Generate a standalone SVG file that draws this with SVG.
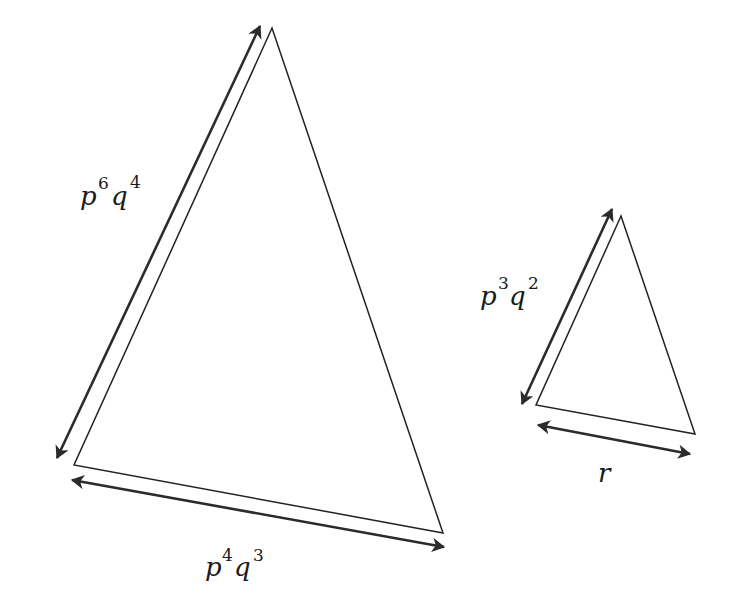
<svg xmlns="http://www.w3.org/2000/svg" width="746" height="608" viewBox="0 0 746 608">
<defs>
<marker id="ah" viewBox="0 0 12 12" refX="10" refY="6" markerWidth="5.5" markerHeight="5.5" orient="auto-start-reverse" markerUnits="strokeWidth">
<path d="M0,0 L11,6 L0,12 L3,6 Z" fill="#2b2b2b"/>
</marker>
</defs>
<style>
.tri{fill:none;stroke:#222;stroke-width:1.5;stroke-linejoin:miter}
.arr{fill:none;stroke:#2b2b2b;stroke-width:2.6;marker-start:url(#ah);marker-end:url(#ah)}
.v{font-style:italic;font-size:26px}
.s{font-size:17px}
</style>
<rect width="746" height="608" fill="#fff"/>
<g id="big-triangle">
<polygon class="tri" points="272,28 74,465 443,533"/>
</g>
<g id="small-triangle">
<polygon class="tri" points="621,216 536,405 695,434"/>
</g>
<g id="connectors">
<line class="arr" x1="57" y1="458" x2="260" y2="26"/>
<line class="arr" x1="72" y1="480" x2="444" y2="547"/>
<line class="arr" x1="522" y1="404" x2="612" y2="209"/>
<line class="arr" x1="538" y1="425" x2="690" y2="454"/>
</g>
<g fill="#1a1a1a" font-family="'DejaVu Serif', serif">
<g id="label-p6q4">
<text class="v" x="80" y="205">p</text><text class="s" x="98" y="189">6</text><text class="v" x="111" y="205">q</text><text class="s" x="130" y="188">4</text>
</g>
<g id="label-p4q3">
<text class="v" x="205" y="576">p</text><text class="s" x="222" y="561">4</text><text class="v" x="234" y="576">q</text><text class="s" x="253" y="561">3</text>
</g>
<g id="label-p3q2">
<text class="v" x="480" y="305">p</text><text class="s" x="498" y="289">3</text><text class="v" x="509" y="305">q</text><text class="s" x="528" y="289">2</text>
</g>
<g id="label-r">
<text class="v" x="598" y="482">r</text>
</g>
</g>
</svg>
